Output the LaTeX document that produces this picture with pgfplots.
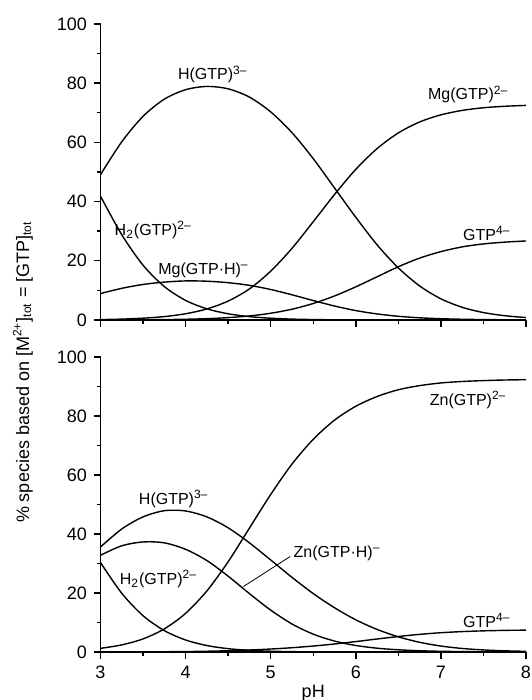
\documentclass[border=0pt]{standalone}
\usepackage{fontspec}
\setmainfont{Liberation Sans}
\usepackage{pgfplots}
\pgfplotsset{compat=1.18}
\usepackage{pgfplotstable}

% % species vs pH, Mg2+/GTP (top) and Zn2+/GTP (bottom)
\pgfplotstableread{
pH   H2    H     L     MH    M
3.00 41.8  49.1  0.02  8.93  0.14
3.25 28.8  60.2  0.04  10.7  0.30
3.50 18.5  68.8  0.07  12.0  0.61
3.75 11.3  74.6  0.14  12.8  1.15
4.00 6.62  77.8  0.25  13.2  2.11
4.25 3.78  78.9  0.45  13.1  3.73
4.50 2.10  78.1  0.80  12.6  6.39
4.75 1.14  75.3  1.37  11.7  10.5
5.00 0.60  70.3  2.28  10.3  16.5
5.25 0.30  63.3  3.64  8.52  24.2
5.50 0.15  54.5  5.58  6.57  33.2
5.75 0.07  44.6  8.12  4.72  42.4
6.00 0.04  34.7  11.2  3.18  50.9
6.25 0.02  25.4  14.6  2.04  57.9
6.50 0.01  17.6  18.0  1.25  63.2
6.75 0.00  11.5  20.9  0.74  66.9
7.00 0.00  7.15  23.1  0.43  69.3
7.25 0.00  4.29  24.7  0.25  70.8
7.50 0.00  2.51  25.7  0.14  71.7
7.75 0.00  1.45  26.3  0.08  72.2
8.00 0.00  0.82  26.7  0.05  72.5
}\mgdata

\pgfplotstableread{
pH   H2    H     L     MH    M
3.00 30.3  35.6  0.01  32.8  1.24
3.25 19.9  41.7  0.02  36.0  2.41
3.50 12.3  45.8  0.05  37.3  4.45
3.75 7.25  47.9  0.09  37.0  7.84
4.00 4.07  47.8  0.15  34.8  13.1
4.25 2.19  45.8  0.26  31.0  20.7
4.50 1.13  42.1  0.43  25.7  30.6
4.75 0.56  37.0  0.67  19.8  42.0
5.00 0.27  31.2  1.01  14.2  53.4
5.25 0.12  25.3  1.45  9.50  63.7
5.50 0.05  19.8  2.02  6.05  72.1
5.75 0.02  15.0  2.72  3.71  78.6
6.00 0.01  10.9  3.53  2.21  83.3
6.25 0.00  7.66  4.41  1.29  86.6
6.50 0.00  5.13  5.25  0.75  88.9
6.75 0.00  3.29  5.98  0.43  90.3
7.00 0.00  2.02  6.54  0.24  91.2
7.25 0.00  1.20  6.92  0.14  91.7
7.50 0.00  0.70  7.17  0.08  92.0
7.75 0.00  0.40  7.33  0.05  92.2
8.00 0.00  0.23  7.41  0.02  92.3
}\zndata

\tikzset{
  lbl/.style={font=\fontsize{8}{9}\selectfont, inner sep=0pt},
  curve/.style={black, line width=0.7pt, smooth, mark=none},
}

\pgfplotsset{spec/.style={
  scale only axis, width=212.75pt,
  xmin=3, xmax=8, ymin=0, ymax=100,
  axis lines*=left,
  xtick={3,...,8}, minor x tick num=1,
  ytick={0,20,...,100}, minor y tick num=1,
  tick align=outside,
  major tick length=3.3pt, minor tick length=2pt,
  tick style={black, line width=0.7pt},
  axis line style={line width=0.8pt},
  ticklabel style={font=\fontsize{9}{10}\selectfont},
  /pgf/number format/assume math mode=true,
}}

\begin{document}
\begin{tikzpicture}
\path[use as bounding box] (0,0) rectangle (265.5pt,350pt);

\begin{axis}[spec, at={(50.25pt,190pt)}, anchor=south west, height=148pt,
  xticklabels={}]
  \addplot[curve] table[x=pH, y=H2] {\mgdata};
  \addplot[curve] table[x=pH, y=H]  {\mgdata};
  \addplot[curve] table[x=pH, y=L]  {\mgdata};
  \addplot[curve] table[x=pH, y=MH] {\mgdata};
  \addplot[curve] table[x=pH, y=M]  {\mgdata};
  \node[lbl] at (axis cs:4.32,83)   {H(GTP)\textsuperscript{3–}};
  \node[lbl] at (axis cs:7.32,76.2) {Mg(GTP)\textsuperscript{2–}};
  \node[lbl] at (axis cs:7.54,29.3) {GTP\textsuperscript{4–}};
  \node[lbl] at (axis cs:3.62,30.4) {H\textsubscript{2}(GTP)\textsuperscript{2–}};
  \node[lbl] at (axis cs:4.21,16.9) {Mg(GTP·H)\textsuperscript{–}};
\end{axis}

\begin{axis}[spec, at={(50.25pt,24pt)}, anchor=south west, height=147.5pt,
  xlabel={pH}, xlabel style={font=\fontsize{9}{10}\selectfont, yshift=3.5pt}]
  \addplot[curve] table[x=pH, y=H2] {\zndata};
  \addplot[curve] table[x=pH, y=H]  {\zndata};
  \addplot[curve] table[x=pH, y=L]  {\zndata};
  \addplot[curve] table[x=pH, y=MH] {\zndata};
  \addplot[curve] table[x=pH, y=M]  {\zndata};
  \node[lbl] at (axis cs:3.86,51.9) {H(GTP)\textsuperscript{3–}};
  \node[lbl] at (axis cs:3.68,24.7) {H\textsubscript{2}(GTP)\textsuperscript{2–}};
  \node[lbl] at (axis cs:5.78,33.6) {Zn(GTP·H)\textsuperscript{–}};
  \draw[line width=0.4pt] (axis cs:5.23,32.4) -- (axis cs:4.68,22.2);
  \node[lbl] at (axis cs:7.32,85.5) {Zn(GTP)\textsuperscript{2–}};
  \node[lbl] at (axis cs:7.54,10.8) {GTP\textsuperscript{4–}};
\end{axis}

\node[rotate=90, font=\fontsize{9}{10}\selectfont] at (11.5pt,164pt)
  {\% species based on [M\textsuperscript{2+}]\textsubscript{tot} = [GTP]\textsubscript{tot}};
\end{tikzpicture}
\end{document}
